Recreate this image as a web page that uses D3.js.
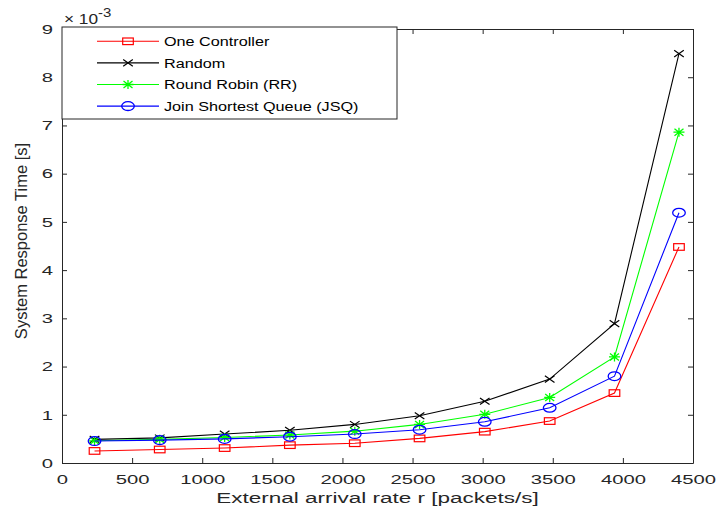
<!DOCTYPE html>
<html>
<head>
<meta charset="utf-8">
<script src="https://cdn.jsdelivr.net/npm/d3@7"></script>
<style>
  html, body { margin: 0; padding: 0; background: #fff; }
  svg { display: block; font-family: "Liberation Sans", Arial, sans-serif; }
</style>
</head>
<body>
<svg id="chart" width="718" height="511"></svg>
<script>
// Arrival rates (packets/s)
const arrivalRates = [232, 697, 1160, 1625, 2088, 2550, 3015, 3478, 3940, 4400];

// Mean system response time, in units of 1e-3 s
const oneController = [0.25, 0.28, 0.31, 0.37, 0.41, 0.51, 0.65, 0.87, 1.45, 4.48];
const randomPolicy  = [0.49, 0.52, 0.60, 0.68, 0.80, 0.98, 1.28, 1.74, 2.89, 8.49];
const roundRobin    = [0.46, 0.49, 0.53, 0.58, 0.66, 0.80, 1.01, 1.36, 2.20, 6.86];
const jsq           = [0.455, 0.475, 0.50, 0.545, 0.60, 0.69, 0.855, 1.145, 1.80, 5.19];

const xTicks = [0, 500, 1000, 1500, 2000, 2500, 3000, 3500, 4000, 4500];
const yTicks = [0, 1, 2, 3, 4, 5, 6, 7, 8, 9];

const seriesNames = ["One Controller", "Random", "Round Robin (RR)", "Join Shortest Queue (JSQ)"];
const seriesColors = ["#ff0000", "#000000", "#00ff00", "#0000ff"];
const seriesMarkers = ["square", "x", "star", "circle"];
const seriesValues = [oneController, randomPolicy, roundRobin, jsq];

const svg = d3.select("#chart");
const W = 718, H = 511;
const margin = { left: 62, right: W - 693, top: 29, bottom: H - 463 };

const x = d3.scaleLinear().domain([0, 4500]).range([margin.left, W - margin.right]);
const y = d3.scaleLinear().domain([0, 9]).range([H - margin.bottom, margin.top]);

const axisColor = "#262626";
const tickStretch = 1.5;   // wide tick lettering

// Axes with inward ticks on all four sides
const xAxis = svg.append("g")
  .attr("transform", `translate(0,${y(0)})`)
  .call(d3.axisBottom(x).tickValues(xTicks).tickFormat(d3.format("d"))
    .tickSizeInner(-5).tickSizeOuter(0).tickPadding(11));
const yAxis = svg.append("g")
  .attr("transform", `translate(${x(0)},0)`)
  .call(d3.axisLeft(y).tickValues(yTicks).tickFormat(d3.format("d"))
    .tickSizeInner(-5).tickSizeOuter(0).tickPadding(6));
const xTop = svg.append("g")
  .attr("transform", `translate(0,${y(9)})`)
  .call(d3.axisTop(x).tickValues(xTicks).tickSizeInner(-5).tickSizeOuter(0).tickFormat(""));
const yRight = svg.append("g")
  .attr("transform", `translate(${x(4500)},0)`)
  .call(d3.axisRight(y).tickValues(yTicks).tickSizeInner(-5).tickSizeOuter(0).tickFormat(""));

[xAxis, yAxis, xTop, yRight].forEach(g => {
  g.select(".domain").attr("stroke", axisColor).attr("stroke-width", 1);
  g.selectAll(".tick line").attr("stroke", axisColor);
  g.selectAll(".tick text")
    .attr("fill", axisColor)
    .attr("transform", `scale(${tickStretch},1)`)
    .style("font-family", "'Liberation Sans', Arial, sans-serif")
    .style("font-size", "13.5px");
});

// Axis labels
svg.append("text")
  .attr("transform", `translate(${(x(0) + x(4500)) / 2},503) scale(1.5,1)`)
  .attr("text-anchor", "middle")
  .attr("fill", axisColor)
  .style("font-size", "15px")
  .text("External arrival rate r [packets/s]");

svg.append("text")
  .attr("transform", `translate(27,${(y(0) + y(9)) / 2 - 5}) rotate(-90)`)
  .attr("text-anchor", "middle")
  .attr("fill", axisColor)
  .style("font-family", "'Liberation Sans Narrow', 'Liberation Sans', Arial, sans-serif")
  .style("font-size", "16.5px")
  .text("System Response Time [s]");

// Exponent multiplier
const mult = svg.append("text")
  .attr("transform", "translate(64,24) scale(1.15,1)")
  .attr("fill", axisColor)
  .style("font-size", "15px");
mult.append("tspan").text("\u00d7 10");
mult.append("tspan").attr("dy", -7).style("font-size", "13px").text("-3");

// Marker drawing
function drawMarker(g, type, color) {
  if (type === "square") {
    g.append("rect").attr("x", -5.3).attr("y", -3.3).attr("width", 10.6).attr("height", 6.6)
      .attr("fill", "none").attr("stroke", color).attr("stroke-width", 1.2);
  } else if (type === "circle") {
    g.append("ellipse").attr("rx", 6.3).attr("ry", 4.4)
      .attr("fill", "none").attr("stroke", color).attr("stroke-width", 1.3);
  } else if (type === "x") {
    g.append("path").attr("d", "M-4.8,-3.3L4.8,3.3M-4.8,3.3L4.8,-3.3")
      .attr("stroke", color).attr("stroke-width", 1.2).attr("fill", "none");
  } else if (type === "star") {
    g.append("path").attr("d", "M-4.5,-3.5L4.5,3.5M-4.5,3.5L4.5,-3.5M-5.5,0L5.5,0M0,-4.5L0,4.5")
      .attr("stroke", color).attr("stroke-width", 1.3).attr("fill", "none");
  }
}

const line = d3.line().x(d => x(d[0])).y(d => y(d[1]));

seriesValues.forEach((vals, i) => {
  const pts = arrivalRates.map((r, k) => [r, vals[k]]);
  const g = svg.append("g");
  g.append("path").datum(pts).attr("d", line)
    .attr("fill", "none").attr("stroke", seriesColors[i]).attr("stroke-width", 1.1);
  g.selectAll("g.m").data(pts).enter().append("g")
    .attr("class", "m")
    .attr("transform", d => `translate(${x(d[0])},${y(d[1])})`)
    .each(function () { drawMarker(d3.select(this), seriesMarkers[i], seriesColors[i]); });
});

// Legend
const legX = x(0), legY = 27, legW = 335, legH = 92;
const legend = svg.append("g");
legend.append("rect").attr("x", legX).attr("y", legY).attr("width", legW).attr("height", legH)
  .attr("fill", "#fff").attr("stroke", axisColor).attr("stroke-width", 1);
seriesNames.forEach((name, i) => {
  const cy = legY + 14.3 + i * 21.6;
  legend.append("line").attr("x1", legX + 35).attr("x2", legX + 97)
    .attr("y1", cy).attr("y2", cy).attr("stroke", seriesColors[i]).attr("stroke-width", 1.1);
  const m = legend.append("g").attr("transform", `translate(${legX + 66},${cy})`);
  drawMarker(m, seriesMarkers[i], seriesColors[i]);
  legend.append("text")
    .attr("transform", `translate(${legX + 102},${cy + 4.8}) scale(1.2,1)`)
    .attr("fill", "#000").style("font-size", "13.5px").text(name);
});
</script>
</body>
</html>
